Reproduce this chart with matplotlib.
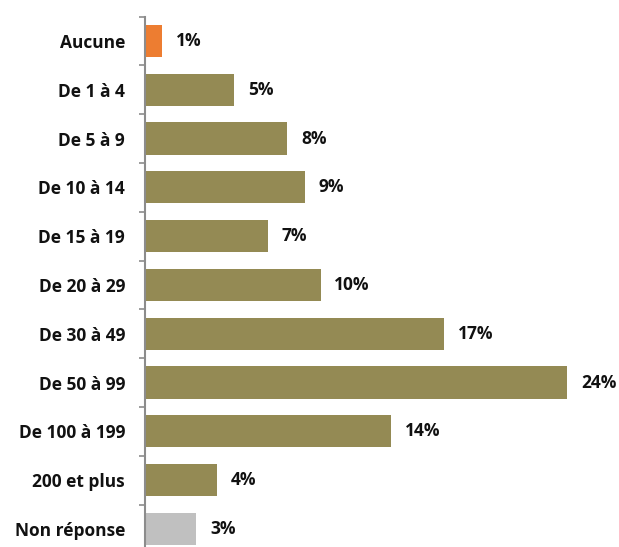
import matplotlib.pyplot as plt
import numpy as np

categories = ["Aucune", "De 1 à 4", "De 5 à 9", "De 10 à 14", "De 15 à 19", "De 20 à 29",
              "De 30 à 49", "De 50 à 99", "De 100 à 199", "200 et plus", "Non réponse"]
values = [1.0, 5.1, 8.1, 9.1, 7.0, 10.0, 17.0, 24.0, 14.0, 4.1, 2.95]
labels = ["1%", "5%", "8%", "9%", "7%", "10%", "17%", "24%", "14%", "4%", "3%"]
colors = ["#ED7D31"] + ["#948A54"] * 9 + ["#C0C0C0"]

plt.rcParams['font.family'] = ['Open Sans', 'DejaVu Sans']

fig = plt.figure(figsize=(6.19, 5.47), dpi=100)
ax = fig.add_axes([144.5 / 619, -0.0117, 440 / 619, 0.9814])

y = np.arange(len(categories))
ax.barh(y, values, height=0.66, color=colors)
ax.set_ylim(len(categories) - 0.5, -0.5)
ax.set_xlim(0, 25)

for yi, v, lab in zip(y, values, labels):
    ax.annotate(lab, (v, yi), xytext=(10, 0), textcoords="offset points",
                ha="left", va="center", fontsize=12.5, fontweight="bold", color="#111111")

ax.set_yticks(y)
ax.set_yticklabels(categories, fontsize=12.5, fontweight="bold", color="#111111")
ax.tick_params(axis="y", which="major", length=0, pad=14)
ax.set_yticks(np.arange(-0.5, len(categories), 1), minor=True)
ax.tick_params(axis="y", which="minor", length=4, width=1.2, color="#8c8c8c")

ax.set_xticks([])
for s in ["top", "right", "bottom"]:
    ax.spines[s].set_visible(False)
ax.spines["left"].set_color("#8c8c8c")
ax.spines["left"].set_linewidth(1.5)

fig.savefig("out.png", dpi=100)
